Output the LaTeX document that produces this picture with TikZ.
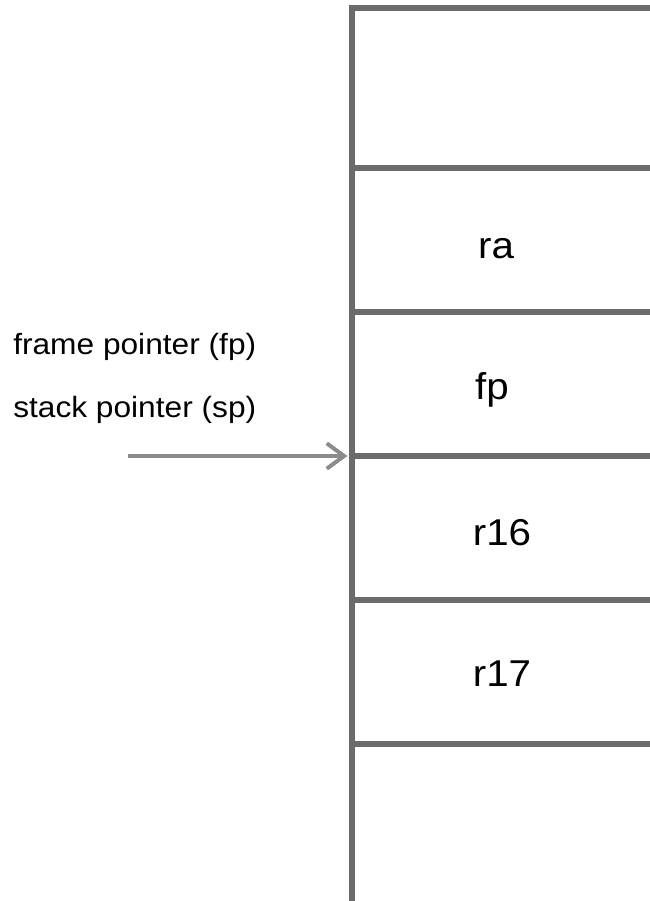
\documentclass[tikz,border=0pt]{standalone}
\usepackage{fontspec}
\setmainfont{Liberation Sans}[FakeStretch=1.08]
\usetikzlibrary{arrows.meta}
\definecolor{wallgray}{HTML}{6B6B6B}
\definecolor{arrowgray}{HTML}{8C8C8C}

\begin{document}
\begin{tikzpicture}[x=0.75pt,y=-0.75pt,
  wall/.style={line width=4.5pt,wallgray},
  slot/.style={font=\fontsize{28pt}{32pt}\selectfont,anchor=base,inner sep=0pt},
  ptr/.style={font=\fontsize{22pt}{26pt}\selectfont,anchor=base west,inner sep=0pt}]
\useasboundingbox (0,0) rectangle (650,901);
% stack wall with its top edge
\draw[wall,line join=miter] (650,8) -- (351.5,8) -- (351.5,901);
% slot dividers
\foreach \y in {168,312,456,600,744} \draw[wall] (351.5,\y) -- (650,\y);
% saved registers
\node[slot] (ra) at (496,258) {ra};
\node[slot] (fp) at (492,399) {fp};
\node[slot] (r16) at (502,545) {r16};
\node[slot] (r17) at (502,686) {r17};
% pointer labels
\node[ptr] (fplbl) at (13,354) {frame pointer (fp)};
\node[ptr] (splbl) at (13,417) {stack pointer (sp)};
\coordinate (sptail) at (128,456);
\coordinate (spwall) at (351.5,456);
\draw[line width=3pt,arrowgray,shorten >=3pt,-{Straight Barb[length=13pt,width=19pt]}] (sptail) -- (spwall);
\end{tikzpicture}
\end{document}
